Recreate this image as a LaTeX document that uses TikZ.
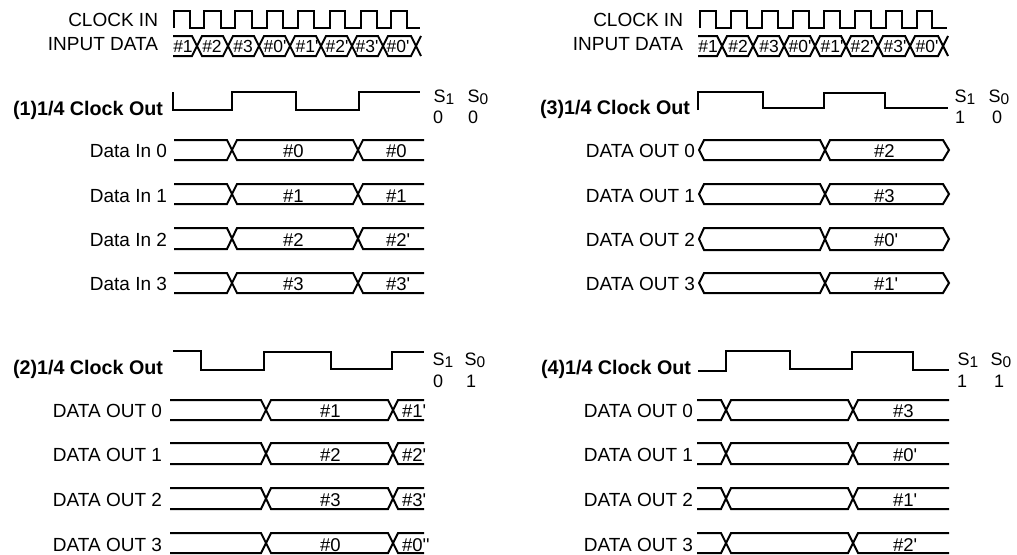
\documentclass[tikz,border=0pt]{standalone}
\usepackage{fontspec}
\setmainfont{Liberation Sans}[Ligatures=TeXOff]
\newcommand{\tdsub}[2]{#1\raisebox{-2.5pt}{\fontsize{15.5}{15}\selectfont #2}}
% top, bottom, x0, c1, c2, x3
\newcommand{\tdbus}[6]{%
  \draw[wave] (#3,#1) -- ({#4-5},#1) -- ({#4+5},#2) -- ({#5-5},#2) -- ({#5+5},#1) -- (#6,#1);
  \draw[wave] (#3,#2) -- ({#4-5},#2) -- ({#4+5},#1) -- ({#5-5},#1) -- ({#5+5},#2) -- (#6,#2);}
% top, bottom
\newcommand{\tdhex}[2]{%
  \draw[wave] (699,{(#1+#2)/2}) -- (704,#1) -- (820,#1) -- (830,#2) -- (943,#2) -- (949,{(#1+#2)/2}) -- (943,#1) -- (830,#1) -- (820,#2) -- (704,#2) -- cycle;}
% x0, crossing list
\newcommand{\tdinbus}[2]{%
  \draw[wave] (#1,36) foreach \c [count=\n] in {#2} { -- ({\c-5},{46+10*cos(180*\n)}) -- ({\c+5},{46-10*cos(180*\n))}) };
  \draw[wave] (#1,56) foreach \c [count=\n] in {#2} { -- ({\c-5},{46-10*cos(180*\n)}) -- ({\c+5},{46+10*cos(180*\n))}) };}
\tikzset{
  x=1pt,y=-1pt,
  wave/.style={line width=2pt,line join=miter,black},
  every node/.style={inner sep=0pt,outer sep=0pt,text=black},
  lab/.style={anchor=base east,font=\fontsize{19}{21}\selectfont},
  blab/.style={anchor=base east,font=\fontsize{19.7}{22}\bfseries\selectfont},
  val/.style={anchor=base west,font=\fontsize{18.5}{20}\selectfont},
  inval/.style={anchor=base,font=\fontsize{17.5}{20}\selectfont},
  sel/.style={anchor=base,font=\fontsize{18}{20}\selectfont},
}
\begin{document}
\begin{tikzpicture}
\useasboundingbox (0,0) rectangle (1017,554);
\fill[white] (0,0) rectangle (1017,554);
% ---- input clocks and data
\node[lab] (ckl) at (158,27) {CLOCK IN};
\node[lab] (idl) at (158,50) {INPUT DATA};
\draw[wave] (173.5,28) -- (173.5,11) -- (190,11) -- (190,28) -- (204,28) -- (204,11) -- (221,11) -- (221,28) -- (235,28) -- (235,11) -- (252,11) -- (252,28) -- (267,28) -- (267,11) -- (283,11) -- (283,28) -- (298,28) -- (298,11) -- (314,11) -- (314,28) -- (330,28) -- (330,11) -- (345,11) -- (345,28) -- (361,28) -- (361,11) -- (377,11) -- (377,28) -- (391,28) -- (391,11) -- (407,11) -- (407,28) -- (420,28);
\tdinbus{173}{197,228,259,290,321,352,383,416}
\foreach \t/\x [count=\i] in {\#1/183,\#2/212,\#3/243,\#0'/275,\#1'/307,\#2'/337,\#3'/367,\#0'/398}
  \node[inval] (ia\i) at (\x,52) {\t};
\node[lab] (ckr) at (683,27) {CLOCK IN};
\node[lab] (idr) at (683,50) {INPUT DATA};
\draw[wave] (700,28) -- (700,11) -- (716,11) -- (716,28) -- (731,28) -- (731,11) -- (747,11) -- (747,28) -- (762,28) -- (762,11) -- (778,11) -- (778,28) -- (793,28) -- (793,11) -- (809,11) -- (809,28) -- (824,28) -- (824,11) -- (840,11) -- (840,28) -- (855,28) -- (855,11) -- (871,11) -- (871,28) -- (886,28) -- (886,11) -- (902,11) -- (902,28) -- (917,28) -- (917,11) -- (932,11) -- (932,28) -- (947,28);
\tdinbus{698}{722,753,784,815,846,878,910,943}
\foreach \t/\x [count=\i] in {\#1/708,\#2/738,\#3/769,\#0'/800,\#1'/832,\#2'/862,\#3'/895,\#0'/927}
  \node[inval] (ib\i) at (\x,52) {\t};
% ---- panel 1
\node[blab] (t1) at (163,115) {(1)1/4 Clock Out};
\draw[wave] (172.5,92) -- (172.5,110) -- (232,110) -- (232,92) -- (296,92) -- (296,110) -- (359,110) -- (359,92) -- (420,92);
\node[sel] (s1a) at (444,102) {\tdsub{S}{1}};
\node[sel] (s1b) at (478,102) {\tdsub{S}{0}};
\node[sel] (v1a) at (438,123) {0};
\node[sel] (v1b) at (473,123) {0};
\foreach \tp/\bt/\bl/\k/\va/\vb in {140/160/157/0/\#0/\#0,184/204/202/1/\#1/\#1,228/249/246/2/\#2/\#2',273/293/290/3/\#3/\#3'}{
  \node[lab] (a\k) at (167,\bl) {Data In \k};
  \tdbus{\tp}{\bt}{174}{232}{358}{424}
  \node[val] (av\k) at (283,\bl) {\va};
  \node[val] (aw\k) at (386,\bl) {\vb};
}
% ---- panel 2
\node[blab] (t2) at (163,374) {(2)1/4 Clock Out};
\draw[wave] (173,351) -- (201,351) -- (201,370) -- (264,370) -- (264,352) -- (331,352) -- (331,369) -- (392,369) -- (392,352) -- (424,352);
\node[sel] (s2a) at (443,365) {\tdsub{S}{1}};
\node[sel] (s2b) at (475,365) {\tdsub{S}{0}};
\node[sel] (v2a) at (438,387) {0};
\node[sel] (v2b) at (471,387) {1};
\foreach \tp/\bt/\bl/\k/\va/\vb in {400/420/417/0/\#1/\#1',443/464/461/1/\#2/\#2',488/509/506/2/\#3/\#3',533/553/551/3/\#0/\#0''}{
  \node[lab] (b\k) at (162,\bl) {DATA OUT \k};
  \tdbus{\tp}{\bt}{170}{266}{393}{424}
  \node[val] (bv\k) at (320,\bl) {\va};
  \node[val] (bw\k) at (402,\bl) {\vb};
}
% ---- panel 3
\node[blab] (t3) at (690,114) {(3)1/4 Clock Out};
\draw[wave] (698,110) -- (698,92) -- (763,92) -- (763,108) -- (824,108) -- (824,93) -- (885,93) -- (885,108) -- (948,108);
\node[sel] (s3a) at (965,102) {\tdsub{S}{1}};
\node[sel] (s3b) at (999,102) {\tdsub{S}{0}};
\node[sel] (v3a) at (960,123) {1};
\node[sel] (v3b) at (997,123) {0};
\foreach \tp/\bt/\bl/\k/\va in {140/160/157/0/\#2,184/204/202/1/\#3,228/250/246/2/\#0',273/293/290/3/\#1'}{
  \node[lab] (c\k) at (695,\bl) {DATA OUT \k};
  \tdhex{\tp}{\bt}
  \node[val] (cv\k) at (874,\bl) {\va};
}
% ---- panel 4
\node[blab] (t4) at (691,374) {(4)1/4 Clock Out};
\draw[wave] (698,370.5) -- (726,370.5) -- (726,351) -- (790,351) -- (790,369) -- (852,369) -- (852,352) -- (913,352) -- (913,369.5) -- (949,369.5);
\node[sel] (s4a) at (968,365) {\tdsub{S}{1}};
\node[sel] (s4b) at (1001,365) {\tdsub{S}{0}};
\node[sel] (v4a) at (962,387) {1};
\node[sel] (v4b) at (999,387) {1};
\foreach \tp/\bt/\bl/\k/\va in {400/420/417/0/\#3,443/464/461/1/\#0',488/509/506/2/\#1',533/553/551/3/\#2'}{
  \node[lab] (d\k) at (693,\bl) {DATA OUT \k};
  \tdbus{\tp}{\bt}{697}{726}{853}{949}
  \node[val] (dv\k) at (893,\bl) {\va};
}
\end{tikzpicture}
\end{document}
